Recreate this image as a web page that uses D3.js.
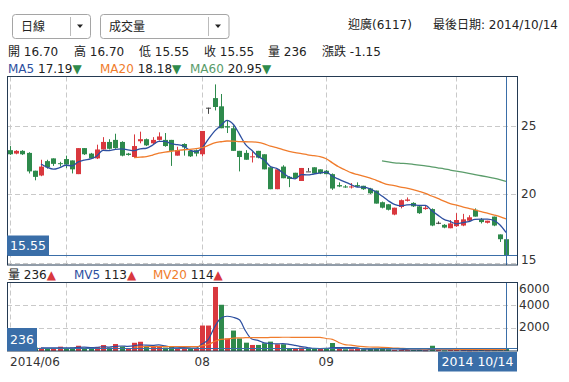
<!DOCTYPE html>
<html>
<head>
<meta charset="utf-8">
<script src="https://cdn.jsdelivr.net/npm/d3@7"></script>
<style>
  body { margin: 0; background: #fff; }
  svg text { font-family: "DejaVu Sans", "Noto Sans CJK TC", sans-serif; }
</style>
</head>
<body>
<svg id="chart"></svg>
<script>
// daily candles 2014/06/18 .. 2014/10/14
const opens = [
  23.20, 22.95, 23.15, 23.00, 21.70, 21.35, 22.40, 22.60, 22.25, 22.55,
  22.45, 21.45, 23.35, 22.95, 22.60, 23.25, 23.80, 23.95, 23.80, 22.95,
  22.70, 23.85, 24.00, 23.70, 23.95, 23.95, 23.95, 22.80, 23.65, 23.15,
  23.20, 22.90, 26.30, 27.00, 26.40, 24.95, 24.80, 23.15, 23.00, 22.70,
  23.15, 22.90, 21.95, 20.35, 22.00, 21.25, 21.55, 20.95, 21.65, 21.95,
  21.80, 21.70, 21.45, 20.65, 20.55, 20.50, 20.65, 20.60, 20.40, 20.25,
  19.40, 19.25, 18.50, 19.05, 19.50, 19.35, 19.10, 18.90, 18.90, 17.90,
  17.75, 17.50, 17.65, 17.70, 18.05, 18.85, 18.15, 17.90, 18.35, 17.05,
  16.70
];
const highs = [
  23.50, 23.20, 23.20, 23.05, 21.70, 22.50, 22.50, 22.60, 22.35, 22.80,
  22.45, 23.35, 23.35, 23.00, 23.60, 24.15, 24.00, 24.40, 23.85, 23.00,
  24.35, 24.55, 24.05, 24.15, 24.50, 24.45, 23.95, 23.45, 23.70, 23.15,
  23.25, 24.60, 26.30, 28.00, 27.30, 25.40, 25.00, 23.15, 23.20, 23.10,
  23.15, 22.90, 21.95, 21.80, 22.10, 21.30, 21.55, 21.90, 21.90, 21.95,
  21.80, 21.75, 21.50, 20.85, 20.65, 20.80, 20.85, 20.60, 20.45, 20.25,
  19.45, 19.25, 19.00, 19.60, 19.75, 19.40, 19.15, 19.15, 18.95, 18.00,
  17.80, 18.10, 18.60, 18.55, 18.45, 18.95, 18.25, 18.05, 18.35, 17.05,
  16.70
];
const lows = [
  22.85, 22.90, 22.85, 21.50, 21.00, 21.30, 21.85, 22.05, 22.00, 21.90,
  21.50, 21.45, 22.85, 22.55, 22.55, 23.25, 23.25, 23.30, 22.75, 22.80,
  22.65, 23.70, 23.50, 23.65, 23.90, 23.45, 22.05, 22.80, 22.80, 22.70,
  22.75, 22.75, 25.85, 26.10, 24.80, 24.45, 23.15, 21.65, 22.50, 22.30,
  22.60, 21.80, 20.35, 20.35, 21.15, 20.50, 21.10, 20.95, 21.65, 21.50,
  21.45, 21.45, 20.30, 20.50, 20.45, 20.40, 20.50, 20.30, 20.00, 19.30,
  18.95, 18.80, 18.45, 18.95, 19.45, 19.05, 18.55, 18.85, 17.65, 17.80,
  17.50, 17.50, 17.60, 17.65, 18.00, 18.35, 17.85, 17.85, 17.65, 16.50,
  15.55
];
const closes = [
  22.90, 23.15, 22.90, 21.65, 21.25, 22.00, 21.95, 22.20, 22.20, 22.15,
  21.80, 23.35, 22.90, 22.60, 23.25, 23.80, 23.30, 23.35, 22.80, 22.85,
  23.50, 24.00, 23.55, 23.95, 24.20, 23.50, 23.15, 23.20, 23.40, 22.75,
  22.95, 24.60, 26.30, 26.35, 24.80, 24.85, 23.15, 22.70, 22.50, 22.75,
  22.65, 21.80, 20.35, 21.80, 21.15, 21.10, 21.15, 21.90, 21.65, 21.50,
  21.50, 21.45, 20.40, 20.55, 20.50, 20.55, 20.55, 20.35, 20.05, 19.30,
  19.00, 18.85, 19.00, 19.55, 19.60, 19.10, 18.60, 19.00, 17.70, 17.90,
  17.55, 17.85, 18.10, 18.15, 18.30, 18.35, 17.95, 18.05, 17.70, 16.70,
  15.55
];
const volumes = [
  300, 250, 200, 350, 300, 280, 250, 200, 380, 250,
  300, 460, 280, 250, 350, 520, 300, 610, 400, 200,
  720, 810, 400, 350, 400, 300, 350, 250, 200, 250,
  200, 2230, 2230, 5610, 4050, 1100, 1790, 1100, 730, 530,
  530, 680, 820, 590, 590, 250, 200, 300, 200, 180,
  200, 250, 700, 200, 150, 150, 180, 150, 200, 250,
  200, 150, 100, 120, 80, 90, 100, 70, 460, 80,
  60, 90, 100, 80, 60, 75, 90, 70, 80, 89,
  236
];

// month boundaries (candle index) and x labels
const monthStarts = [0, 9, 31, 51, 72];
const xLabels = [
  { i: 0, text: "2014/06", anchor: "start" },
  { i: 31, text: "08", anchor: "middle" },
  { i: 51, text: "09", anchor: "middle" }
];
const priceTicks = [15, 20, 25];
const volumeTicks = [2000, 4000, 6000];
const lastDateLabel = "2014 10/14";
const maLegend = [
  { name: "MA5", value: "17.19", color: "#2d4fa0" },
  { name: "MA20", value: "18.18", color: "#f07c2c" },
  { name: "MA60", value: "20.95", color: "#5a9c6a" }
];
const mvLegend = [
  { name: "MV5", value: "113", color: "#2d4fa0" },
  { name: "MV20", value: "114", color: "#f07c2c" }
];

const upColor = "#d9383e", downColor = "#2e8a4c", flatColor = "#444";
const frameColor = "#243a52", gridColor = "#c9c9c9", cursorColor = "#3a6ea8";

const svg = d3.select("#chart").attr("width", 569).attr("height", 382);

const main = { left: 7, right: 517, top: 76.5, bottom: 265 };
const vol = { left: 7, right: 517, top: 282.5, bottom: 351 };

const last = closes.length - 1;

// scales
const x = d3.scalePoint()
  .domain(d3.range(closes.length))
  .range([10, 506]);
const candleW = 5;
const cx = i => Math.round(x(i));

const y = d3.scaleLinear().domain([15, 25]).range([262.5, 125.5]);
const yv = d3.scaleLinear().domain([0, 6000]).range([vol.bottom, vol.top]);

function movingAvg(values, n) {
  return values.map((v, i) => i < n ? null : d3.mean(values.slice(i - n + 1, i + 1)));
}

const candleColor = i => closes[i] > opens[i] ? upColor : closes[i] < opens[i] ? downColor : flatColor;
const volColor = i => {
  const prev = i ? closes[i - 1] : opens[i];
  return closes[i] >= prev ? upColor : downColor;
};

// ---------- header ----------
function dropdown(x0, w, label, divX) {
  const g = svg.append("g");
  g.append("rect")
    .attr("x", x0 + 0.5).attr("y", 14.5)
    .attr("width", w).attr("height", 24).attr("rx", 3)
    .attr("fill", "#fff").attr("stroke", "#a5a5a5");
  g.append("text")
    .attr("x", x0 + 9).attr("y", 30.5)
    .attr("font-size", 12).attr("fill", "#222")
    .text(label);
  g.append("line")
    .attr("x1", divX + 0.5).attr("x2", divX + 0.5)
    .attr("y1", 17).attr("y2", 36)
    .attr("stroke", "#bbb");
  const ax = divX + 10;
  g.append("path")
    .attr("d", `M${ax - 3},24.5L${ax + 3},24.5L${ax},28Z`)
    .attr("fill", "#222");
}
dropdown(12, 78, "日線", 70);
dropdown(100, 128.5, "成交量", 208);

svg.append("text")
  .attr("x", 348).attr("y", 28.5)
  .attr("font-size", 12).attr("fill", "#222")
  .text("迎廣(6117)");
svg.append("text")
  .attr("x", 558).attr("y", 28.5)
  .attr("text-anchor", "end")
  .attr("font-size", 12).attr("fill", "#222")
  .text("最後日期: 2014/10/14");

const change = closes[last] - closes[last - 1];
const quote = [
  { x: 8, text: `開 ${opens[last].toFixed(2)}` },
  { x: 74, text: `高 ${highs[last].toFixed(2)}` },
  { x: 139, text: `低 ${lows[last].toFixed(2)}` },
  { x: 204, text: `收 ${closes[last].toFixed(2)}` },
  { x: 268, text: `量 ${volumes[last]}` },
  { x: 322, text: `漲跌 ${change.toFixed(2)}` }
];
svg.selectAll(".quote")
  .data(quote)
  .enter()
  .append("text")
  .attr("class", "quote")
  .attr("x", d => d.x).attr("y", 56)
  .attr("font-size", 12).attr("fill", "#222")
  .text(d => d.text);

const maX = [8, 100, 190];
maLegend.forEach((m, k) => {
  const t = svg.append("text")
    .attr("x", maX[k]).attr("y", 72.5)
    .attr("font-size", 12);
  t.append("tspan").attr("fill", m.color).text(m.name + " ");
  t.append("tspan").attr("fill", "#222").text(m.value);
  t.append("tspan").attr("fill", downColor).text("▼");
});

// ---------- grids ----------
const grid = svg.append("g")
  .attr("stroke", gridColor)
  .attr("stroke-dasharray", "5,3");

grid.selectAll(".hgrid")
  .data(priceTicks)
  .enter()
  .append("line")
  .attr("x1", main.left).attr("x2", main.right)
  .attr("y1", d => Math.round(y(d)) + 0.5)
  .attr("y2", d => Math.round(y(d)) + 0.5);

grid.selectAll(".vhgrid")
  .data(volumeTicks.filter(v => yv(v) > vol.top + 2))
  .enter()
  .append("line")
  .attr("x1", vol.left).attr("x2", vol.right)
  .attr("y1", d => Math.round(yv(d)) + 0.5)
  .attr("y2", d => Math.round(yv(d)) + 0.5);

[main, vol].forEach(p => {
  grid.append("g").selectAll("line")
    .data(monthStarts)
    .enter()
    .append("line")
    .attr("x1", d => cx(d) + 0.5).attr("x2", d => cx(d) + 0.5)
    .attr("y1", p.top).attr("y2", p.bottom);
});

// ---------- candles ----------
const candles = svg.append("g");
const idx = d3.range(closes.length);

candles.selectAll(".wick")
  .data(idx)
  .enter()
  .append("line")
  .attr("class", "wick")
  .attr("x1", i => cx(i) + 0.5).attr("x2", i => cx(i) + 0.5)
  .attr("y1", i => y(highs[i])).attr("y2", i => y(lows[i]))
  .attr("stroke", candleColor)
  .attr("stroke-width", 1);

candles.selectAll(".body")
  .data(idx)
  .enter()
  .append("rect")
  .attr("class", "body")
  .attr("x", i => cx(i) - 2)
  .attr("width", candleW)
  .attr("y", i => y(Math.max(opens[i], closes[i])))
  .attr("height", i => Math.max(1, Math.abs(y(opens[i]) - y(closes[i]))))
  .attr("fill", candleColor);

// moving averages
const maLine = d3.line()
  .defined(d => d != null)
  .x((d, i) => x(i))
  .y(d => y(d))
  .curve(d3.curveMonotoneX);

[[5, maLegend[0].color], [20, maLegend[1].color], [60, maLegend[2].color]].forEach(([n, c]) => {
  svg.append("path")
    .datum(movingAvg(closes, n))
    .attr("d", maLine)
    .attr("fill", "none")
    .attr("stroke", c)
    .attr("stroke-width", 1.3);
});

// ---------- volume ----------
svg.append("g").selectAll(".vbar")
  .data(idx)
  .enter()
  .append("rect")
  .attr("class", "vbar")
  .attr("x", i => cx(i) - 2)
  .attr("width", candleW)
  .attr("y", i => yv(volumes[i]))
  .attr("height", i => Math.max(1, vol.bottom - yv(volumes[i])))
  .attr("fill", volColor);

const mvLine = d3.line()
  .defined(d => d != null)
  .x((d, i) => x(i))
  .y(d => yv(d))
  .curve(d3.curveMonotoneX);

[[5, mvLegend[0].color], [20, mvLegend[1].color]].forEach(([n, c]) => {
  svg.append("path")
    .datum(movingAvg(volumes, n))
    .attr("d", mvLine)
    .attr("fill", "none")
    .attr("stroke", c)
    .attr("stroke-width", 1.2);
});

// volume legend
const vl = svg.append("text").attr("x", 8).attr("y", 278.5).attr("font-size", 12);
vl.append("tspan").attr("fill", "#222").text(`量 ${volumes[last]}`);
vl.append("tspan").attr("fill", upColor).text("▲");
const mvX = [74, 153];
mvLegend.forEach((m, k) => {
  const t = svg.append("text").attr("x", mvX[k]).attr("y", 278.5).attr("font-size", 12);
  t.append("tspan").attr("fill", m.color).text(m.name + " ");
  t.append("tspan").attr("fill", "#222").text(m.value);
  t.append("tspan").attr("fill", upColor).text("▲");
});

// ---------- cursor ----------
const curX = cx(last) + 0.5;
const curY = Math.round(y(closes[last])) + 0.5;
const curYv = Math.round(yv(volumes[last])) + 0.5;
const cursor = svg.append("g").attr("stroke", cursorColor).attr("stroke-width", 1);
cursor.append("line").attr("x1", curX).attr("x2", curX).attr("y1", main.top).attr("y2", main.bottom);
cursor.append("line").attr("x1", curX).attr("x2", curX).attr("y1", vol.top).attr("y2", vol.bottom);
cursor.append("line").attr("x1", main.left).attr("x2", main.right).attr("y1", curY).attr("y2", curY);
cursor.append("line").attr("x1", vol.left).attr("x2", vol.right).attr("y1", curYv).attr("y2", curYv);

// ---------- frames ----------
[main, vol].forEach(p => {
  svg.append("rect")
    .attr("x", p.left + 0.5).attr("y", p.top)
    .attr("width", p.right - p.left).attr("height", p.bottom - p.top)
    .attr("fill", "none").attr("stroke", frameColor);
});

// ---------- axes ----------
svg.selectAll(".ptick")
  .data(priceTicks)
  .enter()
  .append("text")
  .attr("x", 521)
  .attr("y", d => Math.min(y(d), main.bottom - 5))
  .attr("dy", "0.36em")
  .attr("font-size", 12).attr("fill", "#333")
  .text(d => d);

svg.selectAll(".vtick")
  .data(volumeTicks)
  .enter()
  .append("text")
  .attr("x", 519)
  .attr("y", d => Math.max(yv(d) - 1, vol.top + 6))
  .attr("dy", "0.36em")
  .attr("font-size", 12).attr("fill", "#333")
  .text(d => d);

svg.selectAll(".xlabel")
  .data(xLabels)
  .enter()
  .append("text")
  .attr("x", d => x(d.i))
  .attr("y", 365.5)
  .attr("text-anchor", d => d.anchor)
  .attr("font-size", 12).attr("fill", "#333")
  .text(d => d.text);

// value boxes
function valueBox(x0, y0, w, h, label) {
  svg.append("rect").attr("x", x0).attr("y", y0).attr("width", w).attr("height", h).attr("fill", cursorColor);
  svg.append("text")
    .attr("x", x0 + w / 2).attr("y", y0 + h / 2)
    .attr("dy", "0.36em")
    .attr("text-anchor", "middle")
    .attr("font-size", 12.5).attr("fill", "#fff")
    .text(label);
}
valueBox(main.left, curY - 20, 42, 20, closes[last].toFixed(2));
valueBox(vol.left, vol.bottom - 23, 30, 23, volumes[last]);
valueBox(438, 352, 79, 19.5, lastDateLabel);
</script>
</body>
</html>
